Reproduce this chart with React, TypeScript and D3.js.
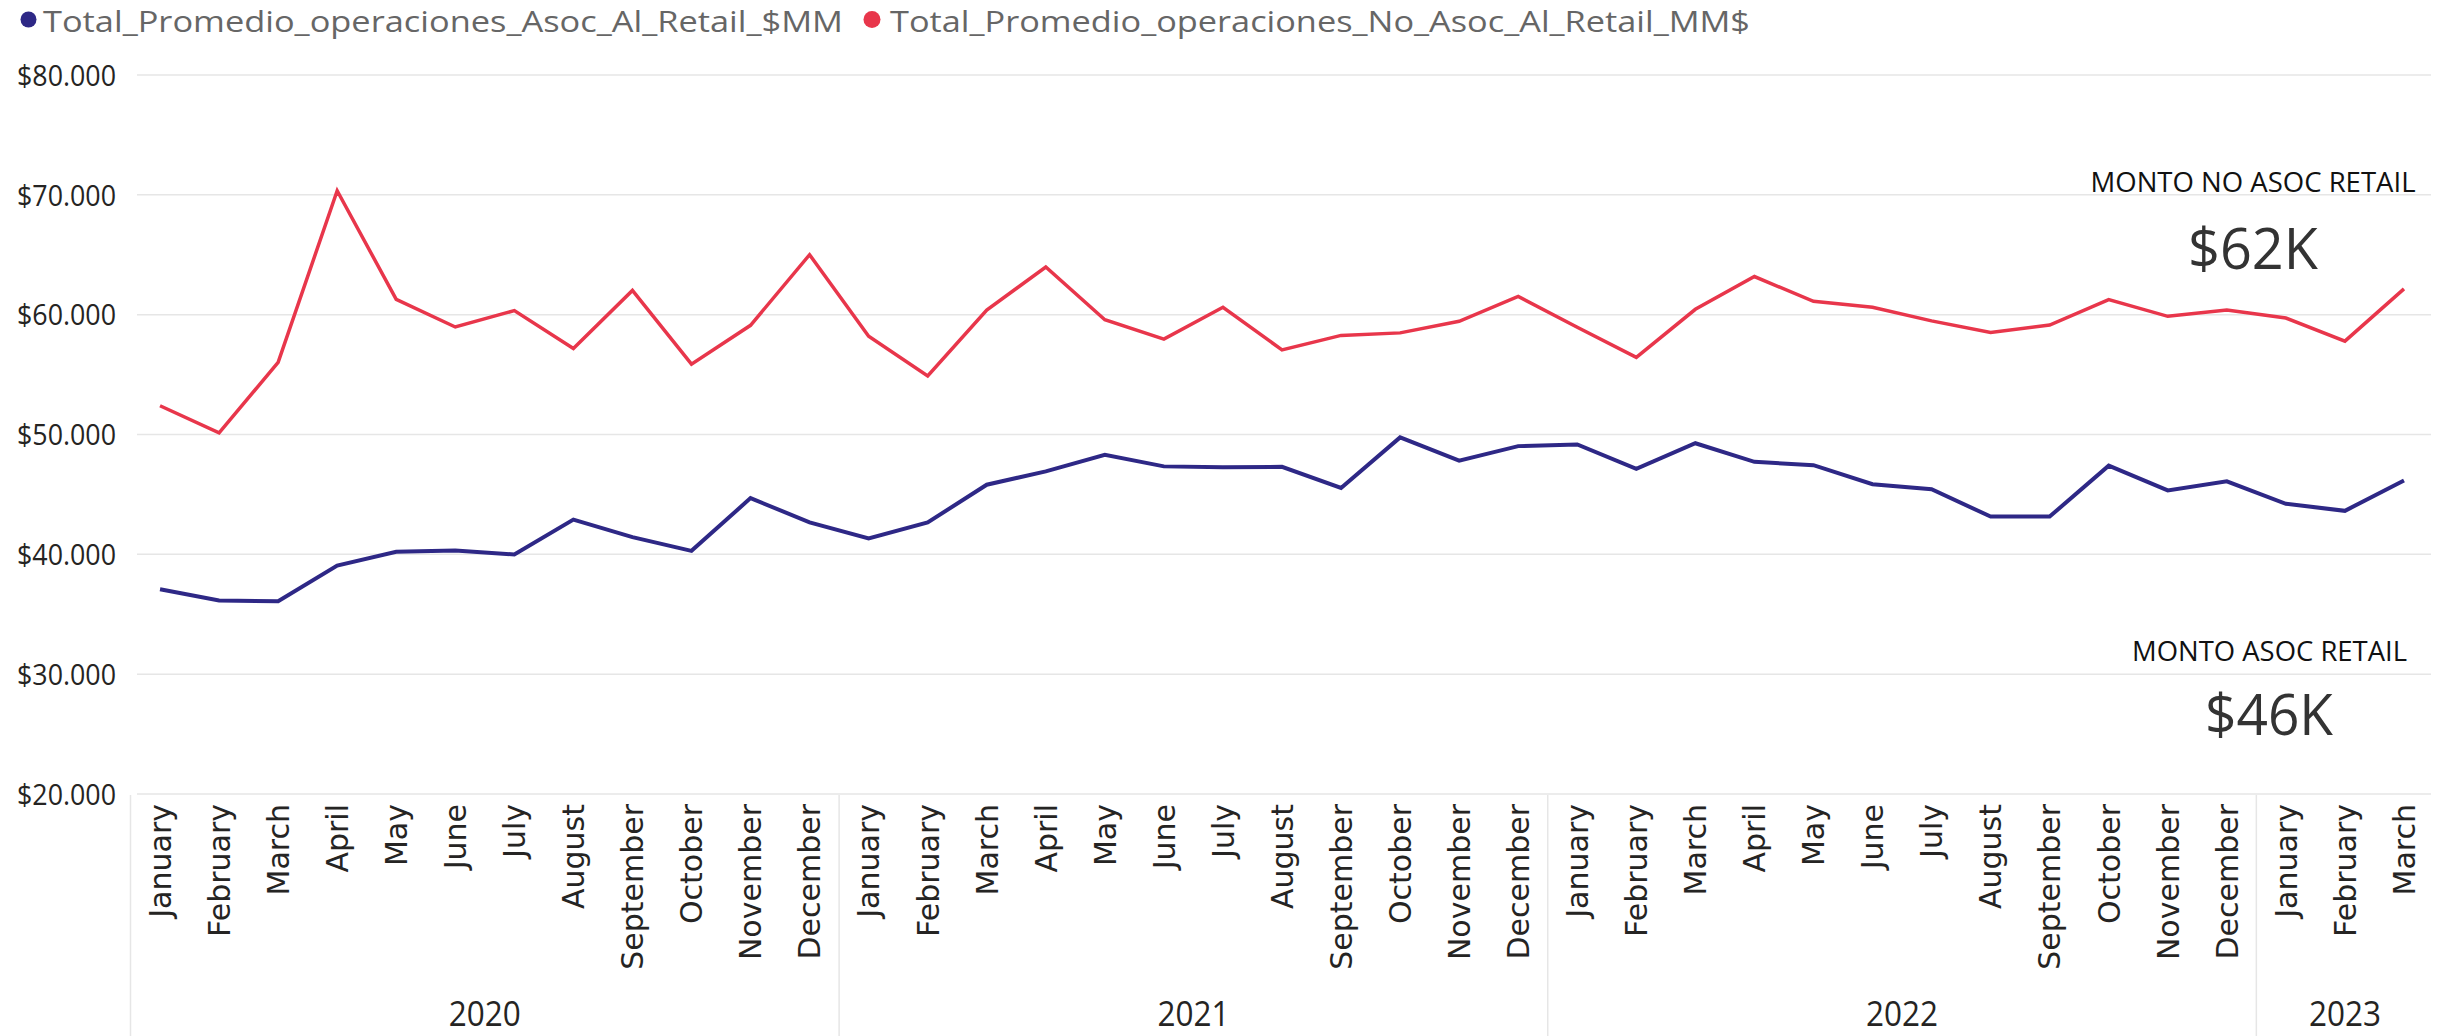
import React from "react";
import * as d3 from "d3";

const W = 2453;
const H = 1036;

const years = ["2020", "2021", "2022", "2023"];
const monthsInYear = [12, 12, 12, 3];
const monthNames = [
  "January", "February", "March", "April", "May", "June",
  "July", "August", "September", "October", "November", "December",
];

// Total_Promedio_operaciones_Asoc_Al_Retail_$MM
const asocRetail = [
  37080, 36150, 36080, 39060, 40210, 40320, 39990, 42900, 41440, 40290, 44690, 42670,
  41320, 42660, 45810, 46920, 48300, 47340, 47270, 47300, 45540, 49760, 47820, 49030,
  49170, 47130, 49270, 47720, 47440, 45850, 45430, 43150, 43150, 47400, 45330, 46090,
  44220, 43630, 46160,
];

// Total_Promedio_operaciones_No_Asoc_Al_Retail_MM$
const noAsocRetail = [
  52400, 50130, 56020, 70340, 61280, 58970, 60340, 57180, 62020, 55870, 59110, 65000,
  58200, 54880, 60380, 63980, 59580, 57960, 60620, 57060, 58270, 58480, 59450, 61520,
  58950, 56440, 60450, 63180, 61110, 60620, 59480, 58510, 59130, 61250, 59860, 60380,
  59720, 57790, 62150,
];

const yTicks = [20000, 30000, 40000, 50000, 60000, 70000, 80000];

const seriesNames = [
  "Total_Promedio_operaciones_Asoc_Al_Retail_$MM",
  "Total_Promedio_operaciones_No_Asoc_Al_Retail_MM$",
];
const seriesColors = ["#2E2886", "#E8364B"];
const kpiTitles = ["MONTO NO ASOC RETAIL", "MONTO ASOC RETAIL"];

const sans = "'Open Sans', sans-serif";
const wide = "'DejaVu Sans', sans-serif";

const locale = d3.formatLocale({
  decimal: ",",
  thousands: ".",
  grouping: [3],
  currency: ["$", ""],
});
const fmtAxis = locale.format("$,.0f");
const fmtKpi = (v: number) => "$" + Math.round(v / 1000) + "K";

const categories = years.flatMap((yr, i) =>
  monthNames.slice(0, monthsInYear[i]).map((m) => ({ year: yr, month: m }))
);

const App = () => {
  const x = d3
    .scaleBand<number>()
    .domain(d3.range(categories.length))
    .range([130.5, 2433.5]);
  const bw = x.bandwidth();
  const cx = (i: number) => (x(i) as number) + bw / 2;

  const y = d3.scaleLinear().domain([20000, 80000]).range([794, 75]);

  const line = d3
    .line<number>()
    .x((_, i) => cx(i))
    .y((d) => y(d));

  // start index of each year group
  const starts = monthsInYear.map((_, i) => d3.sum(monthsInYear.slice(0, i)));

  return (
    <svg
      width={W}
      height={H}
      style={{ position: "absolute", left: 0, top: 0, display: "block", background: "#fff" }}
    >
      {/* legend */}
      <circle cx={28.5} cy={19.5} r={8} fill={seriesColors[0]} />
      <text x={43} y={32} fontFamily={sans} fontSize={30} fill="#666"
        textLength={800} lengthAdjust="spacingAndGlyphs">
        {seriesNames[0]}
      </text>
      <circle cx={872} cy={19.5} r={8.5} fill={seriesColors[1]} />
      <text x={890} y={32} fontFamily={sans} fontSize={30} fill="#666"
        textLength={860} lengthAdjust="spacingAndGlyphs">
        {seriesNames[1]}
      </text>

      {/* gridlines + y labels */}
      {yTicks.map((t) => (
        <g key={t}>
          <line x1={137} x2={2431} y1={y(t)} y2={y(t)} stroke="#e6e6e6" strokeWidth={1.5} />
          <text x={116} y={y(t)} dy="0.36em" textAnchor="end" fontFamily={sans}
            fontSize={30} fill="#252423" textLength={99} lengthAdjust="spacingAndGlyphs">
            {fmtAxis(t)}
          </text>
        </g>
      ))}

      {/* year separators */}
      {starts.map((s, i) => (
        <line key={"sep" + i} x1={x(s)} x2={x(s)} y1={795} y2={H}
          stroke="#e6e6e6" strokeWidth={1.5} />
      ))}

      {/* month labels */}
      {categories.map((c, i) => (
        <text key={"m" + i} transform={`translate(${cx(i)},804) rotate(-90)`}
          dy="0.36em" textAnchor="end" fontFamily={wide} fontSize={30} fill="#252423">
          {c.month}
        </text>
      ))}

      {/* year labels */}
      {years.map((yr, i) => {
        const a = x(starts[i]) as number;
        const b = (x(starts[i] + monthsInYear[i] - 1) as number) + bw;
        return (
          <text key={yr} x={(a + b) / 2} y={1026} textAnchor="middle" fontFamily={sans}
            fontSize={34} fill="#252423" textLength={72} lengthAdjust="spacingAndGlyphs">
            {yr}
          </text>
        );
      })}

      {/* series */}
      <path d={line(noAsocRetail) || ""} fill="none" stroke={seriesColors[1]} strokeWidth={3.5} />
      <path d={line(asocRetail) || ""} fill="none" stroke={seriesColors[0]} strokeWidth={4} />

      {/* KPI cards */}
      <text x={2253} y={192} textAnchor="middle" fontFamily={sans} fontSize={28} fill="#111"
        textLength={325} lengthAdjust="spacingAndGlyphs">
        {kpiTitles[0]}
      </text>
      <text x={2253} y={269} textAnchor="middle" fontFamily={sans} fontSize={57} fill="#333"
        fontWeight={500} textLength={130} lengthAdjust="spacingAndGlyphs">
        {fmtKpi(noAsocRetail[noAsocRetail.length - 1])}
      </text>
      <text x={2269.5} y={661} textAnchor="middle" fontFamily={sans} fontSize={28} fill="#111"
        textLength={275} lengthAdjust="spacingAndGlyphs">
        {kpiTitles[1]}
      </text>
      <text x={2269} y={735} textAnchor="middle" fontFamily={sans} fontSize={57} fill="#333"
        fontWeight={500} textLength={128} lengthAdjust="spacingAndGlyphs">
        {fmtKpi(asocRetail[asocRetail.length - 1])}
      </text>
    </svg>
  );
};

export default App;
